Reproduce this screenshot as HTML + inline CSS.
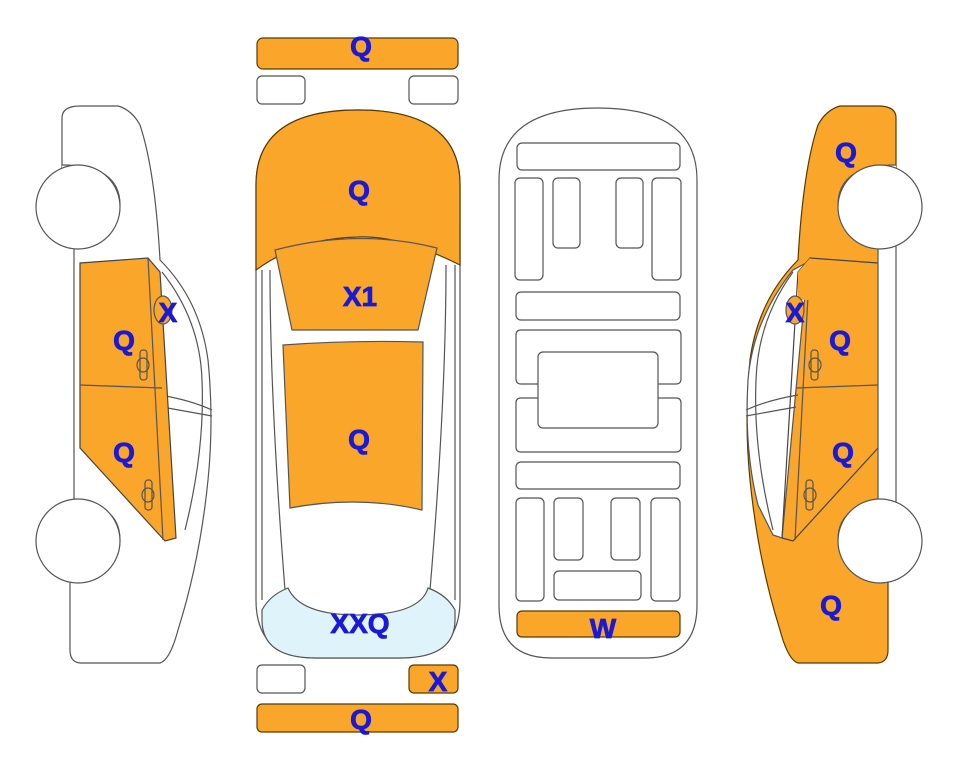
<!DOCTYPE html>
<html><head><meta charset="utf-8"><style>
html,body{margin:0;padding:0;background:#fff;width:963px;height:768px;overflow:hidden}
svg{display:block}
text{font-family:"Liberation Sans",Arial,sans-serif;font-weight:bold;fill:#1a1ad6;stroke:#1a1ad6;stroke-width:0.8;font-size:28px;text-anchor:middle}
</style></head><body>
<svg width="963" height="768" viewBox="0 0 963 768" xmlns="http://www.w3.org/2000/svg">
<g stroke="#555" stroke-width="1.2" fill="none">
<!-- LEFT CAR -->
<path d="M62,118 Q62,106 80,106 L118,106 Q132,110 140,125 Q155,170 160,260 Q200,300 208,360 Q214,420 208,480 Q200,560 178,630 Q170,660 160,663 L80,663 Q70,662 70,650 L70,580 L62,578 L62,505 L74,500 L74,248 L62,244 L62,168 Z" fill="#fff"/>
<path d="M162,272 Q200,320 202,380 Q205,450 185,530" />
<path d="M160,395 Q190,400 212,410 M162,407 L212,416"/>
<path d="M80,263 L148,258 L160,272 L176,538 L165,541 L80,448 Z" fill="#F9A62B" stroke="#444"/>
<path d="M80,385 L162,388 M148,258 L163,540"/>
<ellipse cx="163" cy="310" rx="9" ry="14" fill="#F9A62B"/>
<rect x="140" y="350" width="7" height="30" rx="3"/><ellipse cx="143" cy="365" rx="6" ry="7"/>
<rect x="145" y="480" width="7" height="30" rx="3"/><ellipse cx="148" cy="495" rx="6" ry="7"/>
<path d="M62,165 Q120,165 120,205 Q120,245 62,245" fill="#fff"/>
<circle cx="78" cy="207" r="42" fill="#fff"/>
<path d="M62,502 Q120,500 120,540 Q120,580 62,580" fill="#fff"/>
<circle cx="78" cy="541" r="42" fill="#fff"/>

<!-- RIGHT CAR (mirror) -->
<g transform="translate(958,0) scale(-1,1)">
<path d="M62,118 Q62,106 80,106 L118,106 Q132,110 140,125 Q155,170 160,260 Q200,300 208,360 Q214,420 208,480 Q200,560 178,630 Q170,660 160,663 L80,663 Q70,662 70,650 L70,580 L62,578 L62,505 L74,500 L74,248 L62,244 L62,168 Z" fill="#F9A62B" stroke="#5a3a00"/>
<path d="M150,262 L165,270 Q205,320 210,380 Q214,450 200,505 L185,535 L176,538 Z" fill="#fff"/>
<path d="M165,272 Q200,320 202,380 Q205,450 185,530"/>
<path d="M160,395 Q190,400 212,410 M162,407 L212,416"/>
<path d="M80,263 L148,258 L160,272 L176,538 L165,541 L80,448" fill="none" stroke="#444"/>
<path d="M80,385 L162,388 M148,258 L163,540"/>
<path d="M148,258 L160,272 L160,300 L120,300 Z" fill="#F9A62B" stroke="none"/>
<ellipse cx="163" cy="310" rx="9" ry="14" fill="#F9A62B"/>
<rect x="140" y="350" width="7" height="30" rx="3"/><ellipse cx="143" cy="365" rx="6" ry="7"/>
<rect x="145" y="480" width="7" height="30" rx="3"/><ellipse cx="148" cy="495" rx="6" ry="7"/>
<rect x="62" y="245" width="18" height="258" fill="#fff"/>
<path d="M62,165 Q120,165 120,205 Q120,245 62,245" fill="#fff"/>
<circle cx="78" cy="207" r="42" fill="#fff"/>
<path d="M62,502 Q120,500 120,540 Q120,580 62,580" fill="#fff"/>
<circle cx="78" cy="541" r="42" fill="#fff"/>
</g>

<!-- MIDDLE TOP VIEW -->
<rect x="257" y="38" width="201" height="31" rx="6" fill="#F9A62B" stroke="#5a3a00"/>
<rect x="257" y="76" width="48" height="28" rx="5" fill="#fff"/>
<rect x="409" y="76" width="49" height="28" rx="5" fill="#fff"/>
<path d="M256,185 Q256,110 358,110 Q460,110 460,185 L460,600 Q460,658 400,658 L316,658 Q256,658 256,600 Z" fill="#fff"/>
<path d="M262,270 L262,600 M455,265 L455,600"/>
<path d="M270,270 Q270,400 285,590 M446,265 Q446,400 430,590"/>
<path d="M256,185 Q256,110 358,110 Q460,110 460,185 L460,265 Q400,235 358,237 Q300,238 256,270 Z" fill="#F9A62B" stroke="#5a3a00"/>
<path d="M275,250 Q358,228 437,248 L418,330 L292,330 Z" fill="#F9A62B"/>
<path d="M283,345 Q350,340 423,342 L422,510 Q358,495 290,508 Z" fill="#F9A62B"/>
<path d="M262,610 Q270,595 288,588 Q300,615 358,615 Q420,615 428,588 Q447,595 455,610 L455,620 Q455,658 400,658 L316,658 Q262,658 262,620 Z" fill="#dff3fb"/>
<rect x="257" y="665" width="48" height="28" rx="5" fill="#fff"/>
<rect x="409" y="665" width="49" height="28" rx="5" fill="#F9A62B" stroke="#5a3a00"/>
<rect x="257" y="704" width="201" height="28" rx="5" fill="#F9A62B" stroke="#5a3a00"/>

<!-- UNDERSIDE -->
<path d="M499,180 Q499,108 598,108 Q697,108 697,180 L697,605 Q697,658 645,658 L551,658 Q499,658 499,605 Z" fill="#fff"/>
<rect x="517" y="143" width="163" height="27" rx="5"/>
<rect x="515" y="178" width="28" height="102" rx="5"/>
<rect x="553" y="178" width="27" height="70" rx="5"/>
<rect x="616" y="178" width="27" height="70" rx="5"/>
<rect x="652" y="178" width="29" height="102" rx="5"/>
<rect x="516" y="292" width="164" height="28" rx="5"/>
<path d="M538,384 L521,384 Q516,384 516,379 L516,335 Q516,330 521,330 L676,330 Q681,330 681,335 L681,379 Q681,384 676,384 L658,384"/>
<path d="M538,398 L521,398 Q516,398 516,403 L516,447 Q516,452 521,452 L676,452 Q681,452 681,447 L681,403 Q681,398 676,398 L658,398"/>
<rect x="538" y="352" width="120" height="76" rx="5"/>
<rect x="516" y="462" width="164" height="27" rx="5"/>
<rect x="516" y="498" width="28" height="103" rx="5"/>
<rect x="554" y="498" width="29" height="62" rx="5"/>
<rect x="611" y="498" width="29" height="62" rx="5"/>
<rect x="651" y="498" width="29" height="103" rx="5"/>
<rect x="554" y="571" width="87" height="29" rx="5"/>
<rect x="517" y="611" width="163" height="26" rx="5" fill="#F9A62B" stroke="#5a3a00"/>
</g>

<text x="361" y="56">Q</text>
<text x="359" y="200">Q</text>
<text x="360" y="306">X1</text>
<text x="359" y="449">Q</text>
<text x="360" y="633">XXQ</text>
<text x="438" y="691">X</text>
<text x="361" y="729">Q</text>
<text x="603" y="638">W</text>
<text x="124" y="350">Q</text>
<text x="124" y="462">Q</text>
<text x="168" y="322">X</text>
<text x="846" y="162">Q</text>
<text x="795" y="322">X</text>
<text x="840" y="350">Q</text>
<text x="843" y="462">Q</text>
<text x="831" y="615">Q</text>
</svg>
</body></html>
